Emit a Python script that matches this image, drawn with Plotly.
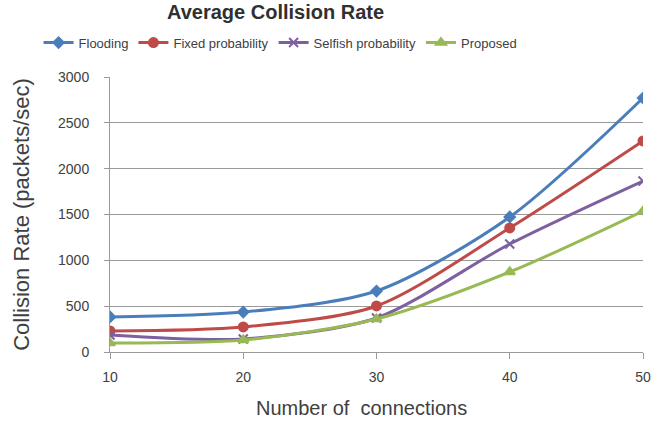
import plotly.graph_objects as go

connections = [10, 20, 30, 40, 50]
flooding = [382, 436, 665, 1473, 2771]
fixed_prob = [229, 273, 502, 1353, 2302]
selfish_prob = [185, 142, 371, 1178, 1865]
proposed = [98, 131, 360, 873, 1538]

series = [
    ("Flooding", flooding, "#4a7ebb", "diamond", 8),
    ("Fixed probability", fixed_prob, "#be4b48", "circle", 9),
    ("Selfish probability", selfish_prob, "#7d60a0", "x-thin", 9),
    ("Proposed", proposed, "#98b954", "triangle-up", 9),
]

fig = go.Figure()
for name, vals, color, sym, size in series:
    fig.add_trace(go.Scatter(
        x=connections, y=vals, name=name, mode="lines+markers",
        line=dict(color=color, width=3, shape="spline", smoothing=0.8),
        marker=dict(symbol=sym, size=size, color=color,
                    line=dict(color=color, width=2)),
    ))

font = "Liberation Sans, Arial, sans-serif"
fig.update_layout(
    width=653, height=424,
    margin=dict(l=110, r=10, t=77, b=72),
    paper_bgcolor="white", plot_bgcolor="white",
    font=dict(family=font, color="#404040", size=13),
    showlegend=True,
    legend=dict(orientation="h", x=0.32, xanchor="center", y=1.125, yanchor="middle",
                font=dict(size=13, color="#404040"), itemwidth=30,
                tracegroupgap=0),
    annotations=[
        dict(text="<b>Average Collision Rate</b>", xref="paper", yref="paper",
             x=0.31, y=1.285, xanchor="center", yanchor="top",
             showarrow=False, font=dict(size=20, color="#303030")),
        dict(text="Number of  connections", xref="paper", yref="paper",
             x=0.471, y=-0.205, xanchor="center", yanchor="middle",
             showarrow=False, font=dict(size=20, color="#404040")),
    ],
)
fig.update_xaxes(
    range=[10, 50], tickvals=connections, ticks="outside", ticklen=6,
    tickcolor="#9a9a9a", showline=True, linecolor="#9a9a9a", linewidth=1,
    showgrid=False, zeroline=False, automargin=False, ticklabelstandoff=6,
    tickfont=dict(size=14, color="#404040"),
)
fig.update_yaxes(
    range=[0, 3000], tickvals=[0, 500, 1000, 1500, 2000, 2500, 3000],
    ticks="outside", ticklen=5, tickcolor="#9a9a9a",
    showline=True, linecolor="#9a9a9a", linewidth=1, ticklabelstandoff=12,
    showgrid=True, gridcolor="#9a9a9a", gridwidth=1, zeroline=False, automargin=False,
    title=dict(text="Collision Rate (packets/sec)", font=dict(size=22, color="#404040"), standoff=22),
    tickfont=dict(size=14, color="#404040"),
)
fig.write_html("out.html")
